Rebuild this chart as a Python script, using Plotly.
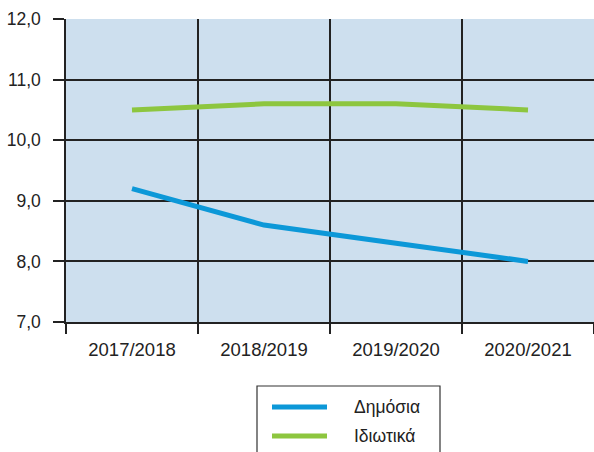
import plotly.graph_objects as go

# School years and average values per sector
years = ["2017/2018", "2018/2019", "2019/2020", "2020/2021"]
public_vals = [9.2, 8.6, 8.3, 8.0]
private_vals = [10.5, 10.6, 10.6, 10.5]
series_names = ["Δημόσια", "Ιδιωτικά"]
y_ticks = [7, 8, 9, 10, 11, 12]

BLUE = "#0c98d8"
GREEN = "#8dc63f"
FONT = "Liberation Sans, Arial, sans-serif"
INK = "#222222"

W, H = 594, 452
L, R, T, B = 66, 0, 19, 130
plot_w = W - L - R
plot_h = H - T - B


def px_x(px):
    """Paper x coordinate for a horizontal pixel position."""
    return (px - L) / plot_w


def px_y(py):
    """Paper y coordinate for a vertical pixel position."""
    return (T + plot_h - py) / plot_h


fig = go.Figure()
colors = [BLUE, GREEN]
for name, vals, col in zip(series_names, [public_vals, private_vals], colors):
    fig.add_trace(go.Scatter(x=years, y=vals, mode="lines", name=name,
                             line=dict(color=col, width=5), showlegend=False))

# Legend box with line samples and labels below the chart
shapes = [dict(type="rect", xref="paper", yref="paper",
               x0=px_x(257), x1=px_x(440), y0=px_y(386), y1=px_y(470),
               line=dict(color="#333333", width=1.2), fillcolor="white", layer="above")]
annotations = []
for i, (name, col) in enumerate(zip(series_names, colors)):
    cy = 407 + i * 29
    shapes.append(dict(type="line", xref="paper", yref="paper",
                       x0=px_x(272), x1=px_x(327), y0=px_y(cy), y1=px_y(cy),
                       line=dict(color=col, width=5), layer="above"))
    annotations.append(dict(text=name, xref="paper", yref="paper",
                            x=px_x(352), y=px_y(cy), xanchor="left", yanchor="middle",
                            showarrow=False, font=dict(family=FONT, size=17.5, color=INK)))

fig.update_layout(
    width=W, height=H,
    margin=dict(l=L, r=R, t=T, b=B, pad=0),
    paper_bgcolor="white",
    plot_bgcolor="#cddfee",
    separators=",.",
    font=dict(family=FONT, size=17, color=INK),
    showlegend=False,
    shapes=shapes,
    annotations=annotations,
    xaxis=dict(
        type="category",
        range=[-0.5, 3.5],
        tickson="boundaries",
        ticks="outside", ticklen=10, tickwidth=1.5, tickcolor=INK,
        ticklabelstandoff=10,
        showgrid=True, gridcolor=INK, gridwidth=1.5,
        showline=True, linecolor=INK, linewidth=1.5,
        tickfont=dict(size=18.5),
        fixedrange=True,
    ),
    yaxis=dict(
        range=[7, 12],
        tickvals=y_ticks,
        tickformat=".1f",
        ticks="outside", ticklen=11, tickwidth=1.5, tickcolor=INK,
        ticklabelstandoff=9,
        showgrid=True, gridcolor=INK, gridwidth=1.5,
        showline=True, linecolor=INK, linewidth=1.5,
        zeroline=False,
        tickfont=dict(size=17.5),
        fixedrange=True,
    ),
)

fig.write_html("out.html", config={"displayModeBar": False})
